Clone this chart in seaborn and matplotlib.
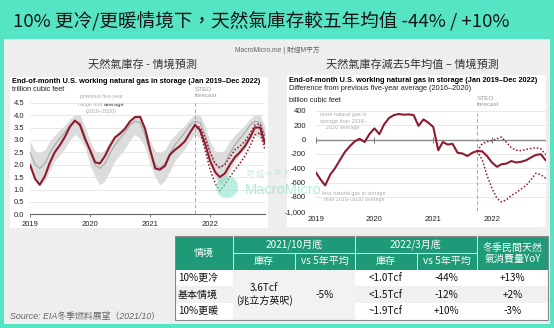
import numpy as np
import pandas as pd
import matplotlib
matplotlib.use('Agg')
import matplotlib.pyplot as plt
import seaborn as sns
from matplotlib.patches import Rectangle, Circle

sns.set_theme(style='white')
plt.rcParams['font.family'] = ['Liberation Sans', 'Noto Sans CJK TC', 'DejaVu Sans']
CJK = ['Noto Sans CJK TC', 'DejaVu Sans']

# ---------------- data ----------------
months = pd.date_range('2019-01-01', '2022-12-01', freq='MS')
year_ticks = pd.to_datetime(['2019-01-01', '2020-01-01', '2021-01-01', '2022-01-01'])
year_labels = ['2019', '2020', '2021', '2022']
forecast_start = pd.Timestamp('2021-10-01')

# end-of-month working gas in storage, trillion cubic feet (Jan 2019 - Oct 2021)
storage_actual = [2.00, 1.43, 1.19, 1.53, 2.07, 2.51, 2.78, 3.12, 3.53, 3.78, 3.60, 3.05,
                  2.60, 2.10, 2.05, 2.35, 2.75, 3.10, 3.25, 3.45, 3.75, 3.92, 3.93, 3.45,
                  2.60, 1.85, 1.80, 1.95, 2.40, 2.60, 2.75, 2.95, 3.30, 3.60]
# STEO forecast scenarios (Oct 2021 - Dec 2022)
storage_base = [3.60, 3.40, 2.85, 2.15, 1.70, 1.50, 1.65, 2.00, 2.30, 2.50, 2.75, 3.10, 3.50, 3.50, 2.85]
storage_cold = [3.60, 3.35, 2.60, 1.80, 1.25, 0.95, 1.20, 1.50, 1.80, 2.05, 2.35, 2.75, 3.20, 3.30, 2.60]
storage_warm = [3.60, 3.50, 3.10, 2.50, 2.05, 1.90, 2.00, 2.30, 2.60, 2.75, 2.95, 3.25, 3.60, 3.65, 3.05]
# previous five-year (2016-2020) average and range
five_yr_avg = [2.50, 2.00, 1.85, 2.05, 2.45, 2.80, 3.05, 3.30, 3.60, 3.75, 3.70, 3.20,
               2.50, 2.00, 1.85, 2.05, 2.45, 2.80, 3.05, 3.30, 3.60, 3.75, 3.70, 3.20,
               2.50, 2.00, 1.85, 2.05, 2.45, 2.80, 3.05, 3.30, 3.60, 3.75, 3.70, 3.20,
               2.50, 2.00, 1.85, 2.05, 2.45, 2.80, 3.05, 3.30, 3.60, 3.75, 3.70, 3.20]
five_yr_max = [2.95, 2.55, 2.50, 2.60, 2.95, 3.20, 3.40, 3.60, 3.85, 4.02, 4.00, 3.55,
               2.95, 2.55, 2.50, 2.60, 2.95, 3.20, 3.40, 3.60, 3.85, 4.02, 4.00, 3.55,
               2.95, 2.55, 2.50, 2.60, 2.95, 3.20, 3.40, 3.60, 3.85, 4.02, 4.00, 3.55,
               2.95, 2.55, 2.50, 2.60, 2.95, 3.20, 3.40, 3.60, 3.85, 4.02, 4.00, 3.55]
five_yr_min = [2.00, 1.50, 1.18, 1.35, 1.75, 2.15, 2.40, 2.65, 3.00, 3.22, 3.05, 2.70,
               2.00, 1.50, 1.18, 1.35, 1.75, 2.15, 2.40, 2.65, 3.00, 3.22, 3.05, 2.70,
               2.00, 1.50, 1.18, 1.35, 1.75, 2.15, 2.40, 2.65, 3.00, 3.22, 3.05, 2.70,
               2.00, 1.50, 1.18, 1.35, 1.75, 2.15, 2.40, 2.65, 3.00, 3.22, 3.05, 2.70]

# difference from five-year average, billion cubic feet (Jan 2019 - Oct 2021)
diff_actual = [-455, -560, -640, -490, -400, -285, -175, -95, -25, 10, -35, 75,
               155, 75, 210, 300, 340, 355, 345, 350, 340, 190, 280, 235,
               175, -150, -35, -70, -60, -185, -195, -230, -185, -160]
diff_base = [-160, -165, -230, -320, -380, -345, -335, -300, -320, -310, -290, -250, -215, -205, -290]
diff_cold = [-160, -280, -500, -680, -820, -870, -840, -780, -740, -690, -640, -560, -470, -490, -540]
diff_warm = [-160, -60, -30, -15, 10, 35, -40, -115, -150, -155, -140, -125, -115, -130, -210]

left_yticks = [0.0, 0.5, 1.0, 1.5, 2.0, 2.5, 3.0, 3.5, 4.0, 4.5]
left_yticklabels = ['0.0', '0.5', '1.0', '1.5', '2.0', '2.5', '3.0', '3.5', '4.0', '4.5']
right_yticks = [-1000, -800, -600, -400, -200, 0, 200, 400]
right_yticklabels = ['-1,000', '-800', '-600', '-400', '-200', '0', '200', '400']

# table
scenarios = ['10%更冷', '基本情境', '10%更暖']
oct2021_storage = '3.6Tcf\n(兆立方英呎)'
oct2021_vs5yr = '-5%'
mar2022_storage = ['<1.0Tcf', '<1.5Tcf', '~1.9Tcf']
mar2022_vs5yr = ['-44%', '-12%', '+10%']
winter_yoy = ['+13%', '+2%', '-3%']

# ---------------- styling ----------------
W, H = 554, 328
MINT = '#55E4C4'
PANEL = '#EEEEEE'
RED = '#8E1B2E'
GRID = '#E4E4E4'
TEAL = '#1E9A78'

fig = plt.figure(figsize=(W / 100, H / 100), dpi=100)
fig.patch.set_facecolor(MINT)


def px_rect(x0, y0, x1, y1):
    return [x0 / W, 1 - y1 / H, (x1 - x0) / W, (y1 - y0) / H]


canvas = fig.add_axes([0, 0, 1, 1], zorder=0)
canvas.set_xlim(0, W)
canvas.set_ylim(H, 0)
canvas.axis('off')
canvas.add_patch(Rectangle((4, 38.5), 546, 285.5, facecolor=PANEL, edgecolor='none'))
canvas.add_patch(Rectangle((9.5, 76.5), 258.5, 151.5, facecolor='white', edgecolor='none'))
canvas.add_patch(Rectangle((287, 75), 259, 152, facecolor='white', edgecolor='none'))

canvas.text(261.5, 21, '10% 更冷/更暖情境下，天然氣庫存較五年均值 -44% / +10%',
            ha='center', va='center', fontsize=13.4, family=CJK, color='#161616', weight='medium')
canvas.text(277, 49.5, 'MacroMicro.me | 財經M平方', ha='center', va='center',
            fontsize=4.9, color='#666666')
canvas.text(142, 65, '天然氣庫存 - 情境預測', ha='center', va='center', fontsize=8,
            family=CJK, color='#333333')
canvas.text(412, 65, '天然氣庫存減去5年均值 – 情境預測', ha='center', va='center', fontsize=8,
            family=CJK, color='#333333')

# chart headers
canvas.text(11.5, 81.5, 'End-of-month U.S. working natural gas in storage (Jan 2019–Dec 2022)',
            ha='left', va='center', fontsize=5.35, weight='bold', color='black')
canvas.text(11.5, 89.5, 'trillion cubic feet', ha='left', va='center', fontsize=5.3, color='#222222')
canvas.text(289, 81, 'End-of-month U.S. working natural gas in storage (Jan 2019–Dec 2022)',
            ha='left', va='center', fontsize=5.35, weight='bold', color='black')
canvas.text(289, 89, 'Difference from previous five-year average (2016–2020)',
            ha='left', va='center', fontsize=5.3, color='#222222')
canvas.text(289, 100.3, 'billion cubic feet', ha='left', va='center', fontsize=5.3, color='#222222')

# ---------------- left chart ----------------
axL = fig.add_axes(px_rect(30, 98, 265, 214.3), zorder=1)
axL.set_facecolor('none')
df_hist = pd.DataFrame({'date': months, 'avg': five_yr_avg, 'lo': five_yr_min, 'hi': five_yr_max})
axL.fill_between(df_hist['date'], df_hist['lo'], df_hist['hi'], color='#DCDCDC', lw=0, zorder=1)
sns.lineplot(data=df_hist, x='date', y='avg', ax=axL, color='#A8A8A8', lw=0.8, zorder=2)
df_act = pd.DataFrame({'date': months[:34], 'v': storage_actual})
df_fc = pd.DataFrame({'date': months[33:], 'base': storage_base, 'cold': storage_cold, 'warm': storage_warm})
sns.lineplot(data=df_fc, x='date', y='cold', ax=axL, color=RED, lw=1.1, linestyle=(0, (1, 1.3)), zorder=3)
sns.lineplot(data=df_fc, x='date', y='warm', ax=axL, color=RED, lw=1.1, linestyle=(0, (1, 1.3)), zorder=3)
sns.lineplot(data=df_act, x='date', y='v', ax=axL, color=RED, lw=1.5, zorder=4)
sns.lineplot(data=df_fc, x='date', y='base', ax=axL, color=RED, lw=1.5, zorder=4)
axL.set_xlim(months[0], months[-1])
axL.set_ylim(0, 4.69)
axL.set_yticks(left_yticks)
axL.set_yticklabels(left_yticklabels)
axL.set_xticks(year_ticks)
axL.set_xticklabels(year_labels)
axL.grid(axis='y', color=GRID, lw=0.6)
axL.grid(axis='x', visible=False)
axL.set_axisbelow(True)
for s in ['top', 'right', 'left']:
    axL.spines[s].set_visible(False)
axL.spines['bottom'].set_color('#666666')
axL.spines['bottom'].set_linewidth(0.8)
axL.tick_params(axis='y', length=0, pad=4.3, labelsize=5.5, labelcolor='#222222')
axL.tick_params(axis='x', length=2, width=0.6, color='#666666', direction='out', pad=2.5,
                labelsize=5.5, labelcolor='#222222', bottom=True)
axL.set_xlabel('')
axL.set_ylabel('')
axL.axvline(forecast_start, ymin=0, ymax=0.975, color='#AAAAAA', lw=0.7, ls=(0, (4, 2.5)), zorder=2)
axL.text(forecast_start, 1.0, 'STEO\nforecast', transform=axL.get_xaxis_transform(),
         ha='left', va='bottom', fontsize=4.6, color='#999999', linespacing=1.25)
# annotation
canvas.text(101, 96.7, 'previous five-year', ha='center', va='center', fontsize=3.9, color='#AAAAAA')
canvas.text(102.5, 104.2, 'range and', ha='right', va='center', fontsize=3.9, color='#AAAAAA')
canvas.text(103.8, 104.2, 'average', ha='left', va='center', fontsize=3.9, color='#666666', weight='bold')
canvas.text(101, 111.5, '(2016–2020)', ha='center', va='center', fontsize=3.9, color='#AAAAAA')

# ---------------- right chart ----------------
axR = fig.add_axes(px_rect(315.7, 107.2, 545.7, 211.3), zorder=1)
axR.set_facecolor('none')
dfd_act = pd.DataFrame({'date': months[:34], 'v': diff_actual})
dfd_fc = pd.DataFrame({'date': months[33:], 'base': diff_base, 'cold': diff_cold, 'warm': diff_warm})
axR.axhline(0, color='#8A8A8A', lw=1.0, zorder=2)
sns.lineplot(data=dfd_fc, x='date', y='cold', ax=axR, color=RED, lw=1.1, linestyle=(0, (1, 1.3)), zorder=3)
sns.lineplot(data=dfd_fc, x='date', y='warm', ax=axR, color=RED, lw=1.1, linestyle=(0, (1, 1.3)), zorder=3)
sns.lineplot(data=dfd_act, x='date', y='v', ax=axR, color=RED, lw=1.5, zorder=4)
sns.lineplot(data=dfd_fc, x='date', y='base', ax=axR, color=RED, lw=1.5, zorder=4)
axR.set_xlim(months[0], months[-1])
axR.set_ylim(-1000, 450)
axR.set_yticks(right_yticks)
axR.set_yticklabels(right_yticklabels)
axR.grid(axis='y', color=GRID, lw=0.6)
axR.grid(axis='x', visible=False)
axR.set_axisbelow(True)
for s in ['top', 'right', 'left']:
    axR.spines[s].set_visible(False)
axR.spines['bottom'].set_position(('data', 0))
axR.spines['bottom'].set_visible(False)
axR.set_xticks(year_ticks)
axR.tick_params(axis='x', length=4, width=0.7, color='#777777', direction='inout', labelbottom=False, bottom=True)
axR.tick_params(axis='y', length=0, pad=7, labelsize=5.5, labelcolor='#222222')
axR.set_xlabel('')
axR.set_ylabel('')
for d, lab in zip(year_ticks, year_labels):
    axR.text(d, -0.077, lab, transform=axR.get_xaxis_transform(), ha='center', va='center',
             fontsize=5.5, color='#222222')
axR.axvline(forecast_start, ymin=0, ymax=0.94, color='#AAAAAA', lw=0.7, ls=(0, (4, 2.5)), zorder=2)
axR.text(forecast_start, 1.0, 'STEO\nforecast', transform=axR.get_xaxis_transform(),
         ha='left', va='bottom', fontsize=4.6, color='#999999', linespacing=1.25)
canvas.text(343, 121, 'more natural gas in\nstorage than 2016–\n2020 average', ha='center', va='center',
            fontsize=3.9, color='#AAAAAA', linespacing=1.35)
canvas.text(354, 196.3, 'less natural gas in storage\nthan 2016–2020 average', ha='center', va='center',
            fontsize=3.9, color='#AAAAAA', linespacing=1.35)

# ---------------- table ----------------
cx = [175, 233.3, 295, 355, 416.7, 476.7, 548.3]
ry = [236, 253.3, 269.5, 286.2, 302.8, 319.5]


def cell(x0, x1, y0, y1, fc):
    canvas.add_patch(Rectangle((x0, y0), x1 - x0, y1 - y0, facecolor=fc, edgecolor='none'))


cell(cx[0], cx[6], ry[0], ry[2], TEAL)
for i in range(3):
    fc = '#F0F0F0' if i == 1 else 'white'
    cell(cx[0], cx[1], ry[2 + i], ry[3 + i], fc)
    cell(cx[3], cx[6], ry[2 + i], ry[3 + i], fc)
cell(cx[1], cx[3], ry[2], ry[5], '#F2F2F2')
sep = dict(color='white', lw=0.6)
for x in [cx[1], cx[3], cx[5]]:
    canvas.plot([x, x], [ry[0], ry[2]], **sep)
for x in [cx[2], cx[4]]:
    canvas.plot([x, x], [ry[1], ry[2]], **sep)
canvas.plot([cx[1], cx[5]], [ry[1], ry[1]], **sep)
canvas.add_patch(Rectangle((cx[0], ry[0]), cx[6] - cx[0], ry[5] - ry[0], fill=False,
                           edgecolor='#8A8A8A', lw=0.8))

tk = dict(family=CJK, fontsize=7.2, va='center')
canvas.text((cx[0] + cx[1]) / 2, ry[1], '情境', ha='center', color='white', **tk)
canvas.text((cx[1] + cx[3]) / 2, (ry[0] + ry[1]) / 2, '2021/10月底', ha='center', color='white', **tk)
canvas.text((cx[3] + cx[5]) / 2, (ry[0] + ry[1]) / 2, '2022/3月底', ha='center', color='white', **tk)
canvas.text((cx[5] + cx[6]) / 2, ry[1], '冬季民間天然\n氣消費量YoY', ha='center', color='white',
            linespacing=1.15, **tk)
for a, b in [(1, 2), (3, 4)]:
    canvas.text((cx[a] + cx[a + 1]) / 2, (ry[1] + ry[2]) / 2, '庫存', ha='center', color='white', **tk)
    canvas.text((cx[b] + cx[b + 1]) / 2, (ry[1] + ry[2]) / 2, 'vs 5年平均', ha='center', color='white', **tk)
for i in range(3):
    yc = (ry[2 + i] + ry[3 + i]) / 2
    canvas.text(cx[0] + 3, yc, scenarios[i], ha='left', color='#111111', **tk)
    canvas.text((cx[3] + cx[4]) / 2, yc, mar2022_storage[i], ha='center', color='#111111', **tk)
    canvas.text((cx[4] + cx[5]) / 2, yc, mar2022_vs5yr[i], ha='center', color='#111111', **tk)
    canvas.text((cx[5] + cx[6]) / 2, yc, winter_yoy[i], ha='center', color='#111111', **tk)
canvas.text((cx[1] + cx[2]) / 2, (ry[2] + ry[5]) / 2, oct2021_storage, ha='center', color='#111111',
            linespacing=1.15, **tk)
canvas.text((cx[2] + cx[3]) / 2, (ry[2] + ry[5]) / 2, oct2021_vs5yr, ha='center', color='#111111', **tk)

canvas.text(9.5, 316.5, 'Source: EIA冬季燃料展望（2021/10）', ha='left', va='center', fontsize=6.4,
            style='italic', color='#666666')

# ---------------- watermark ----------------
wm = fig.add_axes([0, 0, 1, 1], zorder=5)
wm.set_xlim(0, W)
wm.set_ylim(H, 0)
wm.axis('off')
wm.add_patch(Circle((227, 187), 11, facecolor='#7FE3C9', edgecolor='none', alpha=0.55))
wm.text(245, 190, 'MacroMicro', ha='left', va='center', fontsize=10.5, color='#6FDDBF', alpha=0.55)
wm.text(247, 173.5, '財 經 M 平 方', ha='left', va='center', fontsize=5.5, family=CJK,
        color='#9FD9C9', alpha=0.55)

fig.savefig('out.png', dpi=100, facecolor=fig.get_facecolor())
